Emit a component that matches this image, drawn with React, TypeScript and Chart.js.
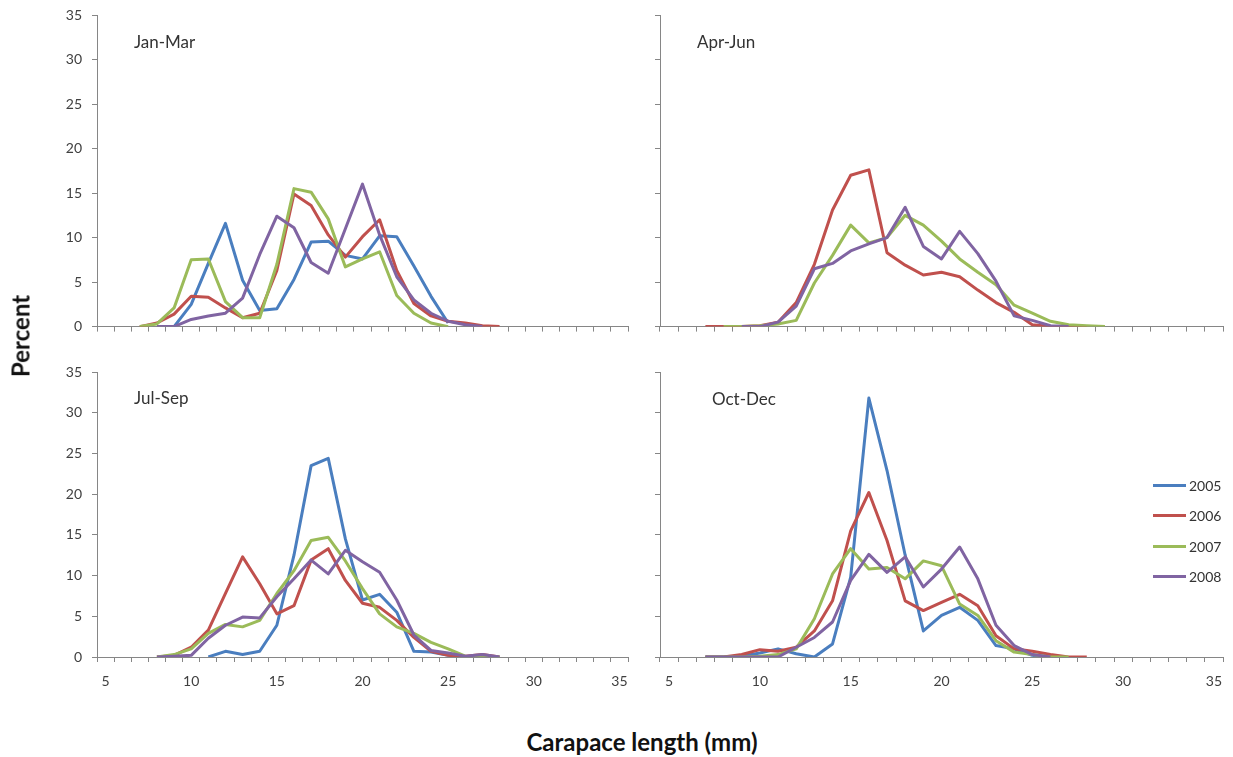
import React, { useEffect, useRef } from 'react';
import { Chart, registerables } from 'chart.js';

Chart.register(...registerables);

const _ = null;

const sizeLabels = ['5', '6', '7', '8', '9', '10', '11', '12', '13', '14', '15', '16', '17', '18', '19', '20', '21', '22', '23', '24', '25', '26', '27', '28', '29', '30', '31', '32', '33', '34', '35'];
const years = ['2005', '2006', '2007', '2008'];
const yearColors = ['#4a7ebf', '#c0504d', '#9bbb59', '#8064a2'];
const panelTitles = ['Jan-Mar', 'Apr-Jun', 'Jul-Sep', 'Oct-Dec'];

// Jan-Mar
const janMar2005 = [_, _, _, _, 0, 2.5, 7.1, 11.6, 5.2, 1.8, 2.0, 5.3, 9.5, 9.6, 8.0, 7.6, 10.2, 10.1, 6.8, 3.4, 0.4, _, _, _, _, _, _, _, _, _, _];
const janMar2006 = [_, _, 0, 0.4, 1.4, 3.4, 3.3, 2.1, 1.0, 1.5, 6.3, 14.9, 13.6, 10.3, 7.8, 10.1, 12.0, 6.3, 2.6, 1.2, 0.6, 0.4, 0.1, 0, _, _, _, _, _, _, _];
const janMar2007 = [_, _, 0, 0.3, 2.1, 7.5, 7.6, 2.8, 1.0, 1.0, 7.0, 15.5, 15.1, 12.1, 6.7, 7.6, 8.4, 3.5, 1.5, 0.4, 0, _, _, _, _, _, _, _, _, _, _];
const janMar2008 = [_, _, _, 0, 0, 0.8, 1.2, 1.5, 3.2, 8.1, 12.4, 11.1, 7.2, 6.0, 11.0, 16.0, 10.3, 5.6, 3.0, 1.5, 0.6, 0.2, 0, _, _, _, _, _, _, _, _];

// Apr-Jun
const aprJun2005 = [_, _, _, _, _, _, _, _, _, _, _, _, _, _, _, _, _, _, _, _, _, _, _, _, _, _, _, _, _, _, _];
const aprJun2006 = [_, _, 0, 0, 0, 0.1, 0.5, 2.7, 7.0, 13.1, 17.0, 17.6, 8.3, 6.9, 5.8, 6.1, 5.6, 4.1, 2.7, 1.6, 0.2, 0, 0, 0, _, _, _, _, _, _, _];
const aprJun2007 = [_, _, _, 0, 0, 0.1, 0.3, 0.7, 4.9, 8.0, 11.4, 9.4, 10.0, 12.5, 11.4, 9.6, 7.6, 6.1, 4.7, 2.4, 1.5, 0.6, 0.2, 0.1, 0, _, _, _, _, _, _];
const aprJun2008 = [_, _, _, _, 0, 0, 0.5, 2.3, 6.5, 7.1, 8.5, 9.3, 10.0, 13.4, 9.0, 7.6, 10.7, 8.2, 5.1, 1.2, 0.7, 0.1, 0, _, _, _, _, _, _, _, _];

// Jul-Sep
const julSep2005 = [_, _, _, _, _, _, 0, 0.7, 0.3, 0.7, 3.9, 12.5, 23.5, 24.4, 14.5, 7.0, 7.7, 5.5, 0.7, 0.6, 0.2, 0, _, _, _, _, _, _, _, _, _];
const julSep2006 = [_, _, _, 0, 0.2, 1.2, 3.3, 7.8, 12.3, 9.0, 5.3, 6.3, 11.9, 13.3, 9.4, 6.6, 6.1, 4.5, 2.4, 0.7, 0.2, 0.1, 0.3, 0, _, _, _, _, _, _, _];
const julSep2007 = [_, _, _, 0, 0.3, 1.0, 2.9, 4.0, 3.7, 4.5, 7.8, 10.6, 14.3, 14.7, 11.8, 8.4, 5.3, 3.7, 2.9, 1.8, 1.0, 0.1, 0, 0, _, _, _, _, _, _, _];
const julSep2008 = [_, _, _, 0, 0.1, 0.2, 2.3, 3.9, 4.9, 4.8, 7.4, 9.6, 11.9, 10.2, 13.1, 11.7, 10.4, 7.0, 2.7, 0.8, 0.5, 0.1, 0.3, 0, _, _, _, _, _, _, _];

// Oct-Dec
const octDec2005 = [_, _, 0, 0, 0.1, 0.5, 1.0, 0.4, 0, 1.6, 9.8, 31.8, 22.9, 12.5, 3.2, 5.1, 6.1, 4.5, 1.4, 1.0, 0.2, 0, _, _, _, _, _, _, _, _, _];
const octDec2006 = [_, _, 0, 0, 0.3, 0.9, 0.7, 1.2, 3.2, 6.9, 15.5, 20.2, 14.3, 6.9, 5.7, 6.7, 7.7, 6.3, 2.6, 1.0, 0.7, 0.3, 0, 0, _, _, _, _, _, _, _];
const octDec2007 = [_, _, 0, 0, 0, 0.1, 0.3, 1.0, 4.7, 10.2, 13.3, 10.8, 11.0, 9.6, 11.8, 11.2, 6.5, 5.1, 2.0, 0.6, 0.3, 0, 0, _, _, _, _, _, _, _, _];
const octDec2008 = [_, _, 0, 0, 0, 0, 0, 1.2, 2.4, 4.3, 9.4, 12.6, 10.4, 12.3, 8.6, 10.8, 13.5, 9.6, 3.9, 1.4, 0.3, 0, _, _, _, _, _, _, _, _, _];

const FONT = 'Lato, "Open Sans", sans-serif';
const AXIS_GRAY = '#868686';
const TICK_TEXT = '#404040';

type PanelProps = {
  left: number;
  top: number;
  width: number;
  height: number;
  yAxisWidth: number;
  xAxisHeight: number;
  showX: boolean;
  showY: boolean;
  series: (number | null)[][];
};

function Panel(p: PanelProps) {
  const ref = useRef<HTMLCanvasElement>(null);
  useEffect(() => {
    const chart = new Chart(ref.current as HTMLCanvasElement, {
      type: 'line',
      data: {
        labels: sizeLabels,
        datasets: p.series.map((d, i) => ({
          label: years[i],
          data: d,
          borderColor: yearColors[i],
          backgroundColor: yearColors[i],
          borderWidth: 3,
          pointRadius: 0,
          pointHoverRadius: 0,
          tension: 0,
          fill: false,
          spanGaps: false,
          order: 4 - i,
          borderJoinStyle: 'round' as const,
        })),
      },
      options: {
        animation: false,
        responsive: false,
        maintainAspectRatio: false,
        devicePixelRatio: 1,
        events: [],
        layout: { padding: { top: 20, right: 14, bottom: 0, left: 0 } },
        plugins: { legend: { display: false }, tooltip: { enabled: false }, title: { display: false } },
        scales: {
          x: {
            type: 'category',
            offset: true,
            grid: { offset: true, drawOnChartArea: false, drawTicks: true, tickLength: 5, color: AXIS_GRAY },
            border: { display: true, color: AXIS_GRAY, width: 1 },
            ticks: {
              autoSkip: false,
              maxRotation: 0,
              minRotation: 0,
              padding: 11,
              color: TICK_TEXT,
              font: { family: FONT, size: 14 },
              callback: (_v: any, i: number) => (p.showX && Number(sizeLabels[i]) % 5 === 0 ? sizeLabels[i] : ''),
            },
            afterFit: (s: any) => {
              s.height = p.xAxisHeight;
            },
          },
          y: {
            min: 0,
            max: 35,
            grid: { drawOnChartArea: false, drawTicks: true, tickLength: 5, color: AXIS_GRAY },
            border: { display: true, color: AXIS_GRAY, width: 1 },
            ticks: {
              stepSize: 5,
              padding: 10,
              color: TICK_TEXT,
              font: { family: FONT, size: 14 },
              callback: (v: any) => (p.showY ? String(v) : ''),
            },
            afterFit: (s: any) => {
              s.width = p.yAxisWidth;
            },
          },
        },
      },
    });
    return () => chart.destroy();
  }, []);
  return (
    <canvas
      ref={ref}
      width={p.width}
      height={p.height}
      style={{ position: 'absolute', left: p.left, top: p.top, width: p.width, height: p.height }}
    />
  );
}

const titleStyle: React.CSSProperties = {
  position: 'absolute',
  fontFamily: FONT,
  fontSize: 17,
  color: '#333',
  lineHeight: '20px',
  whiteSpace: 'nowrap',
};

export default function App() {
  return (
    <div
      style={{
        position: 'absolute',
        left: 0,
        top: 0,
        width: 1233,
        height: 757,
        overflow: 'hidden',
        background: '#fff',
      }}
    >
      <Panel left={0} top={-5.5} width={642} height={350} yAxisWidth={97} xAxisHeight={10} showX={false} showY={true}
        series={[janMar2005, janMar2006, janMar2007, janMar2008]} />
      <Panel left={600} top={-5.5} width={637} height={350} yAxisWidth={60} xAxisHeight={10} showX={false} showY={false}
        series={[aprJun2005, aprJun2006, aprJun2007, aprJun2008]} />
      <Panel left={0} top={351.7} width={642} height={345} yAxisWidth={97} xAxisHeight={40} showX={true} showY={true}
        series={[julSep2005, julSep2006, julSep2007, julSep2008]} />
      <Panel left={600} top={351.7} width={637} height={345} yAxisWidth={60} xAxisHeight={40} showX={true} showY={false}
        series={[octDec2005, octDec2006, octDec2007, octDec2008]} />

      <div style={{ ...titleStyle, left: 134, top: 32 }}>{panelTitles[0]}</div>
      <div style={{ ...titleStyle, left: 697, top: 32 }}>{panelTitles[1]}</div>
      <div style={{ ...titleStyle, left: 134, top: 388 }}>{panelTitles[2]}</div>
      <div style={{ ...titleStyle, left: 712, top: 389 }}>{panelTitles[3]}</div>

      {years.map((y, i) => (
        <div key={y} style={{ position: 'absolute', left: 1153, top: 485 + i * 30.5 - 10, height: 20, display: 'flex', alignItems: 'center' }}>
          <span style={{ display: 'inline-block', width: 33, height: 3, background: yearColors[i] }} />
          <span style={{ marginLeft: 3, fontFamily: FONT, fontSize: 14, color: '#333' }}>{y}</span>
        </div>
      ))}

      <div
        style={{
          position: 'absolute',
          left: 20,
          top: 336,
          transform: 'translate(-50%, -50%) rotate(-90deg)',
          fontFamily: FONT,
          fontWeight: 700,
          fontSize: 24,
          color: '#111',
          whiteSpace: 'nowrap',
        }}
      >
        Percent
      </div>
      <div
        style={{
          position: 'absolute',
          left: 642,
          top: 741,
          transform: 'translate(-50%, -50%)',
          fontFamily: FONT,
          fontWeight: 700,
          fontSize: 24,
          color: '#111',
          whiteSpace: 'nowrap',
        }}
      >
        Carapace length (mm)
      </div>
    </div>
  );
}
